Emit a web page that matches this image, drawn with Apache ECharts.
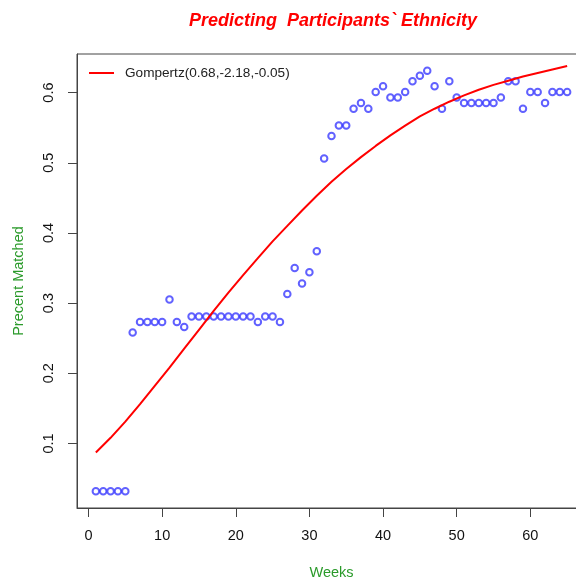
<!DOCTYPE html>
<html>
<head>
<meta charset="utf-8">
<script src="https://cdn.jsdelivr.net/npm/echarts@6/dist/echarts.min.js"></script>
<style>
  html, body { margin: 0; padding: 0; background: #fff; }
  #chart { width: 576px; height: 579px; }
</style>
</head>
<body>
<div id="chart"></div>
<script>
// Weekly share of participants whose ethnicity was matched
const weeks = [];
for (let w = 1; w <= 65; w++) weeks.push(w);
const matched = [
  0.032, 0.032, 0.032, 0.032, 0.032, 0.258, 0.273, 0.273, 0.273, 0.273,
  0.305, 0.273, 0.266, 0.281, 0.281, 0.281, 0.281, 0.281, 0.281, 0.281,
  0.281, 0.281, 0.273, 0.281, 0.281, 0.273, 0.313, 0.350, 0.328, 0.344,
  0.374, 0.506, 0.538, 0.553, 0.553, 0.577, 0.585, 0.577, 0.601, 0.609,
  0.593, 0.593, 0.601, 0.616, 0.624, 0.631, 0.609, 0.577, 0.616, 0.593,
  0.585, 0.585, 0.585, 0.585, 0.585, 0.593, 0.616, 0.616, 0.577, 0.601,
  0.601, 0.585, 0.601, 0.601, 0.601
];

// Fitted Gompertz curve, sampled every other week
const fitWeeks = [1, 3, 5, 7, 9, 11, 13, 15, 17, 19, 21, 23, 25, 27, 29, 31, 33,
                  35, 37, 39, 41, 43, 45, 47, 49, 51, 53, 55, 57, 59, 61, 63, 65];
const fitValues = [0.087, 0.108, 0.131, 0.156, 0.182, 0.208, 0.235, 0.262, 0.289,
                   0.315, 0.340, 0.364, 0.388, 0.410, 0.432, 0.453, 0.473, 0.491,
                   0.508, 0.524, 0.539, 0.553, 0.566, 0.577, 0.587, 0.596, 0.604,
                   0.611, 0.617, 0.623, 0.628, 0.633, 0.638];
const fitLabel = 'Gompertz(0.68,-2.18,-0.05)';

// Tick labels
const xTicks = [0, 10, 20, 30, 40, 50, 60];
const yTicks = [0.1, 0.2, 0.3, 0.4, 0.5, 0.6];

const font = '"Liberation Sans", Arial, sans-serif';
const green = '#2a9a2a';

const chart = echarts.init(document.getElementById('chart'), null, { renderer: 'canvas' });
chart.setOption({
  animation: false,
  backgroundColor: '#ffffff',
  title: {
    text: 'Predicting  Participants` Ethnicity',
    left: 328, top: 7, textAlign: 'center',
    textStyle: { color: '#ff0000', fontFamily: font, fontSize: 18, fontWeight: 'bold', fontStyle: 'italic' }
  },
  legend: {
    left: 84, top: 61,
    icon: 'rect', itemWidth: 25, itemHeight: 2,
    data: [fitLabel],
    textStyle: { fontFamily: font, fontSize: 13.6, color: '#222', padding: [0, 0, 0, 6] }
  },
  grid: {
    left: 77, top: 54, width: 509, height: 454,
    outerBoundsMode: 'none', containLabel: false,
    show: true, borderColor: '#444', borderWidth: 1, backgroundColor: 'transparent'
  },
  xAxis: {
    type: 'value', min: -1.56, max: 67.56,
    name: 'Weeks', nameLocation: 'middle', nameGap: 57,
    nameTextStyle: { color: green, fontFamily: font, fontSize: 14.5 },
    axisLine: { show: true, onZero: false, lineStyle: { color: '#444', width: 1 } },
    axisTick: { show: true, customValues: xTicks, length: 9, lineStyle: { color: '#444' } },
    axisLabel: { customValues: xTicks, margin: 20, color: '#111', fontFamily: font, fontSize: 14.5 },
    splitLine: { show: false }
  },
  yAxis: {
    type: 'value', min: 0.008, max: 0.655,
    name: 'Precent Matched', nameLocation: 'middle', nameGap: 51, nameRotate: 90,
    nameTextStyle: { color: green, fontFamily: font, fontSize: 14.5 },
    axisLine: { show: true, onZero: false, lineStyle: { color: '#444', width: 1 } },
    axisTick: { show: true, customValues: yTicks, length: 9, lineStyle: { color: '#444' } },
    axisLabel: { customValues: yTicks, rotate: 90, margin: 21, color: '#111', fontFamily: font, fontSize: 14.5,
                 formatter: v => v.toFixed(1) },
    splitLine: { show: false }
  },
  series: [
    {
      type: 'scatter',
      data: weeks.map((w, i) => [w, matched[i]]),
      symbol: 'emptyCircle', symbolSize: 6.5,
      itemStyle: { color: '#3a3aff', borderColor: '#3a3aff', borderWidth: 1 },
      z: 2
    },
    {
      name: fitLabel,
      type: 'line',
      data: fitWeeks.map((w, i) => [w, fitValues[i]]),
      smooth: false,
      showSymbol: false,
      lineStyle: { color: '#ff0000', width: 2 },
      itemStyle: { color: '#ff0000' },
      z: 3
    }
  ]
});
</script>
</body>
</html>
